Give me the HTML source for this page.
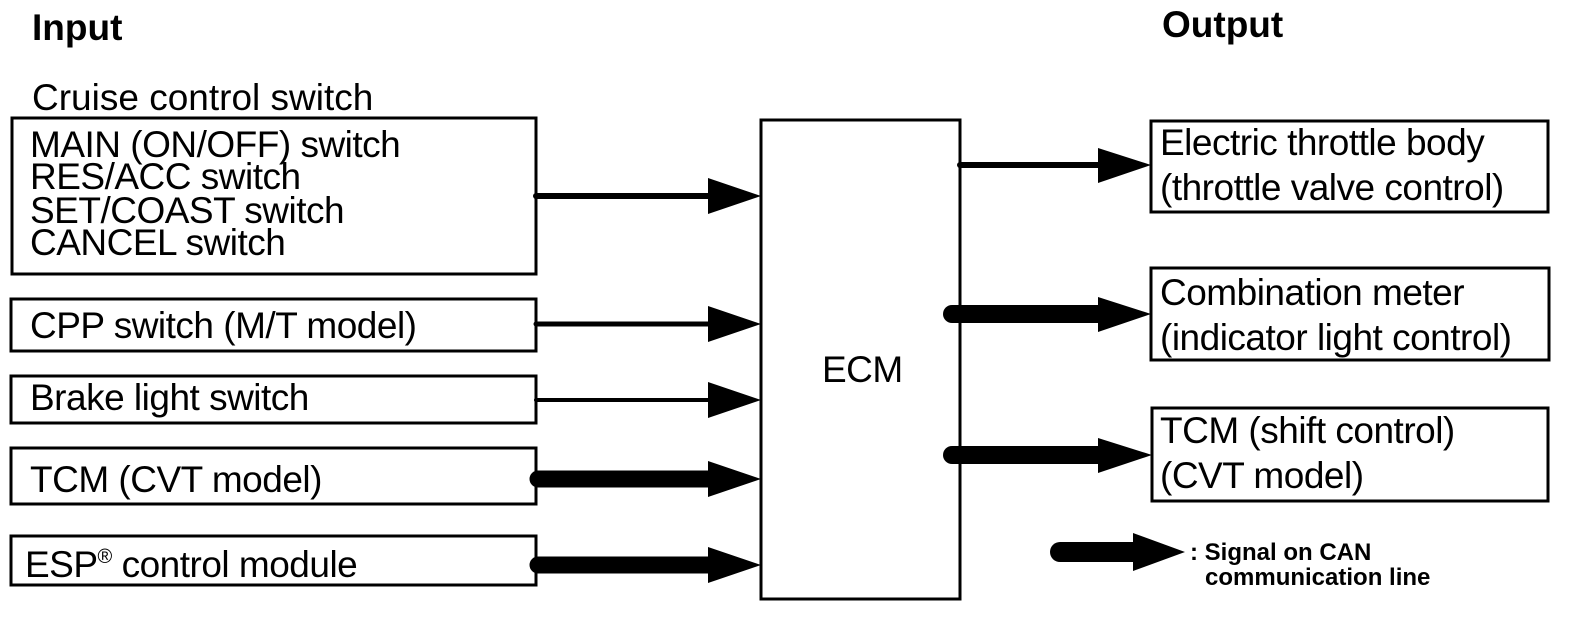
<!DOCTYPE html>
<html><head><meta charset="utf-8"><style>
html,body{margin:0;padding:0;background:#fff;}
svg{display:block;}
text{font-family:"Liberation Sans",Arial,sans-serif;fill:#000;}
</style></head><body>
<svg width="1584" height="622" viewBox="0 0 1584 622" xmlns="http://www.w3.org/2000/svg">
<g font-size="37">
<text x="32" y="40" font-weight="bold">Input</text>
<text x="1162" y="37" font-weight="bold">Output</text>
<text x="32" y="110">Cruise control switch</text>
</g>
<g fill="none" stroke="#000" stroke-width="3">
<rect x="12" y="118" width="524" height="156"/>
<rect x="11" y="299" width="525" height="52"/>
<rect x="11" y="376" width="525" height="47"/>
<rect x="11" y="448" width="525" height="56"/>
<rect x="11" y="536" width="525" height="49"/>
<rect x="761" y="120" width="199" height="479"/>
<rect x="1151" y="121" width="397" height="91"/>
<rect x="1151" y="268" width="398" height="92"/>
<rect x="1152" y="408" width="396" height="93"/>
</g>
<g font-size="37" style="letter-spacing:-0.5px">
<text x="30" y="157">MAIN (ON/OFF) switch</text>
<text x="30" y="189">RES/ACC switch</text>
<text x="30" y="223">SET/COAST switch</text>
<text x="30" y="255">CANCEL switch</text>
<text x="30" y="338">CPP switch (M/T model)</text>
<text x="30" y="410">Brake light switch</text>
<text x="30" y="492">TCM (CVT model)</text>
<text x="25" y="577">ESP<tspan font-size="20" dy="-14">®</tspan><tspan dy="14"> control module</tspan></text>
<text x="822" y="382">ECM</text>
<text x="1160" y="155">Electric throttle body</text>
<text x="1160" y="200">(throttle valve control)</text>
<text x="1160" y="305">Combination meter</text>
<text x="1160" y="350">(indicator light control)</text>
<text x="1160" y="443">TCM (shift control)</text>
<text x="1160" y="488">(CVT model)</text>
</g>
<g stroke="#000" stroke-linecap="round">
<line x1="536" y1="196" x2="712" y2="196" stroke-width="6"/>
<line x1="536" y1="324" x2="712" y2="324" stroke-width="5"/>
<line x1="536" y1="400" x2="712" y2="400" stroke-width="4"/>
<line x1="538" y1="479" x2="712" y2="479" stroke-width="17"/>
<line x1="538" y1="565" x2="712" y2="565" stroke-width="17"/>
<line x1="960" y1="165" x2="1100" y2="165" stroke-width="6"/>
<line x1="952" y1="314" x2="1100" y2="314" stroke-width="18"/>
<line x1="952" y1="455" x2="1100" y2="455" stroke-width="18"/>
<line x1="1060" y1="552" x2="1136" y2="552" stroke-width="20"/>
</g>
<g fill="#000">
<polygon points="708,178 761,196 708,214"/>
<polygon points="708,306 761,324 708,342"/>
<polygon points="708,382 761,400 708,418"/>
<polygon points="708,461 761,479 708,497"/>
<polygon points="708,547 761,565 708,583"/>
<polygon points="1098,148 1151,165 1098,183"/>
<polygon points="1098,297 1151,314 1098,332"/>
<polygon points="1098,438 1152,455 1098,473"/>
<polygon points="1133,533 1185,552 1133,571"/>
</g>
<g font-size="24" font-weight="bold">
<text x="1190" y="560">: Signal on CAN</text>
<text x="1205" y="585">communication line</text>
</g>
</svg>
</body></html>
